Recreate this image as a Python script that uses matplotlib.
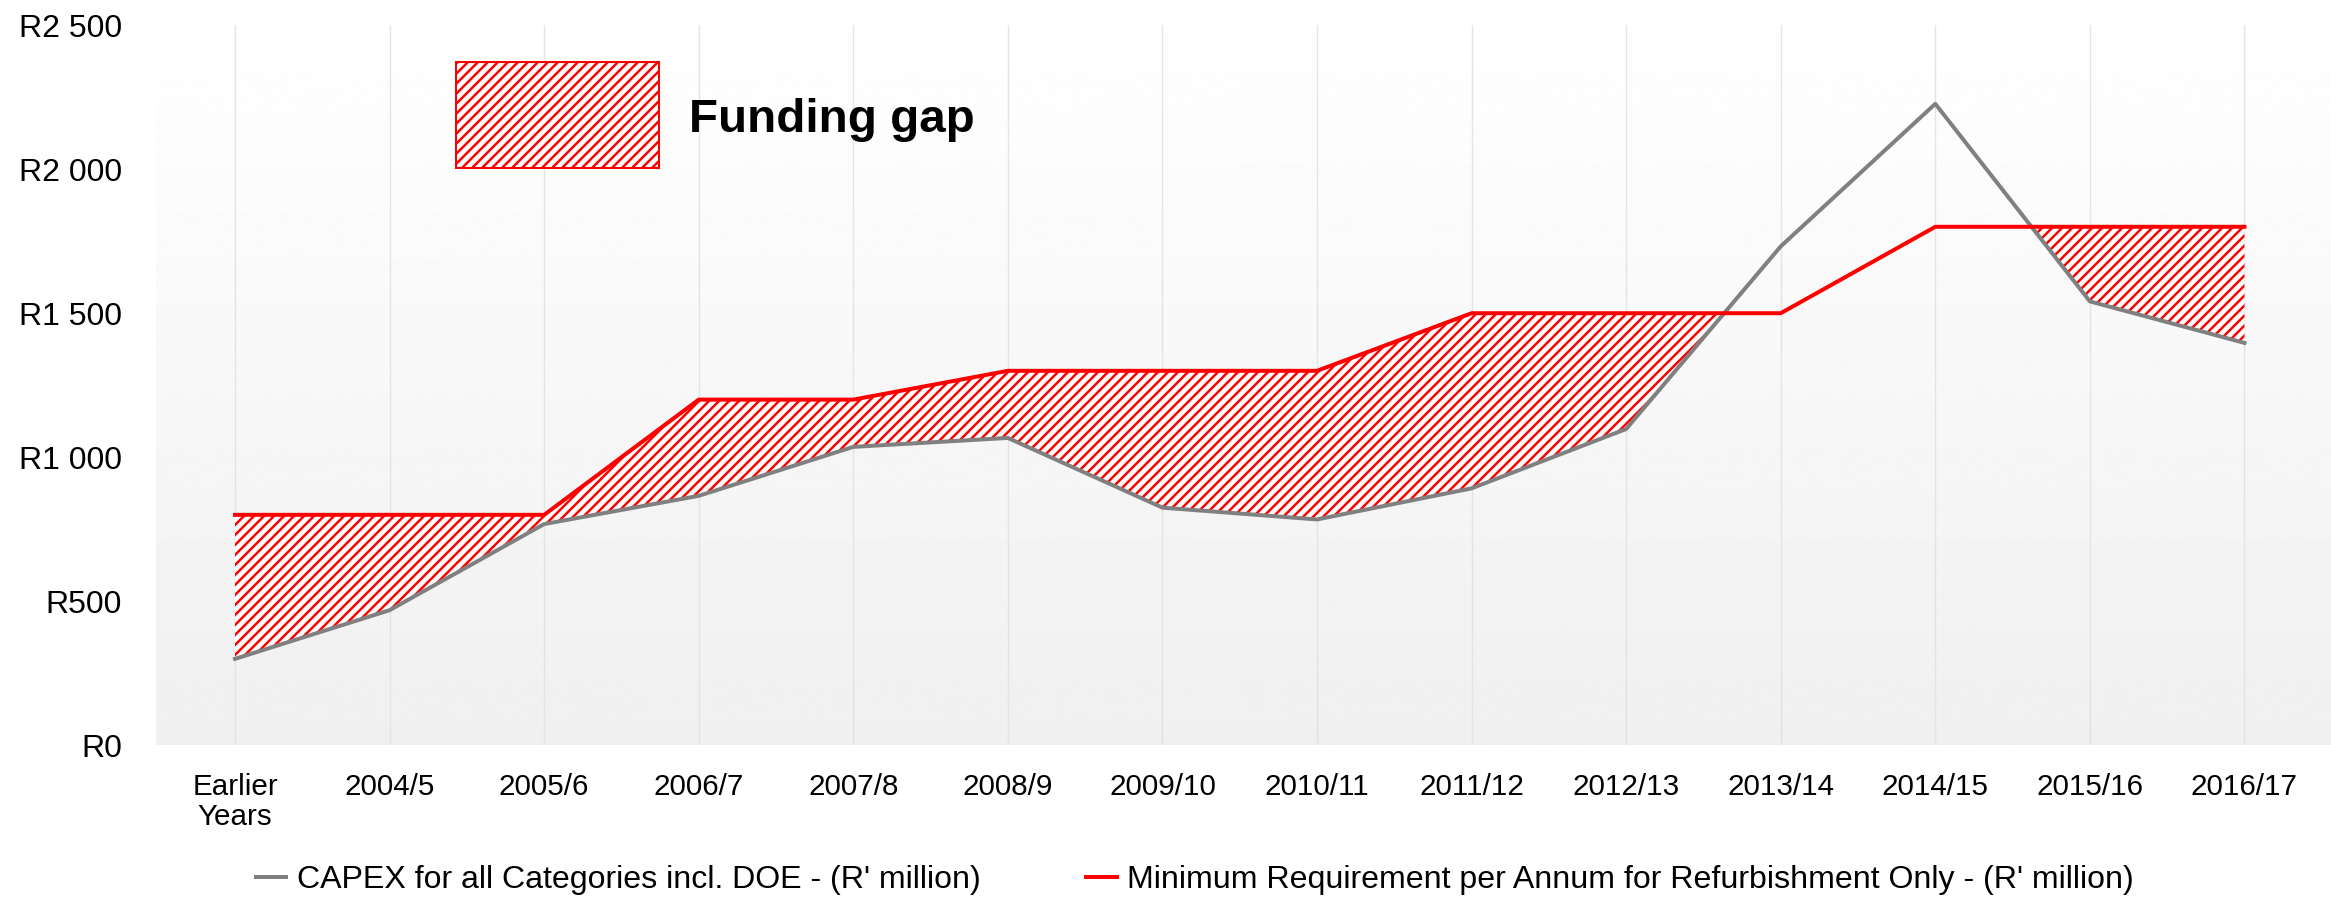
import numpy as np
import pandas as pd
import matplotlib
matplotlib.use("Agg")
import matplotlib.pyplot as plt
from matplotlib.patches import Rectangle
from matplotlib.collections import LineCollection
from matplotlib.path import Path
from matplotlib.transforms import IdentityTransform

DPI = 100
W, H = 2331, 899


def px(v):
    # pixel size -> points
    return v * 72.0 / DPI


plt.rcParams['font.family'] = ['Liberation Sans', 'DejaVu Sans']

#%% data
years = ["Earlier\nYears", "2004/5", "2005/6", "2006/7", "2007/8", "2008/9", "2009/10",
         "2010/11", "2011/12", "2012/13", "2013/14", "2014/15", "2015/16", "2016/17"]
capex = [300, 469, 768, 866, 1036, 1067, 825, 784, 892, 1098, 1732, 2227, 1541, 1397]
min_req = [800, 800, 800, 1200, 1200, 1300, 1300, 1300, 1500, 1500, 1500, 1800, 1800, 1800]
yticks = [0, 500, 1000, 1500, 2000, 2500]
ytick_labels = ["R0", "R500", "R1 000", "R1 500", "R2 000", "R2 500"]

df = pd.DataFrame({"year": years, "capex": capex, "min_req": min_req})
x = np.arange(len(df))


def stripes(ax, clip_path, clip_transform, step=10, zorder=2.5):
    # 45 degree red stripes in pixel space, clipped to a shape
    segs = [[(c, 0), (c + H, H)] for c in np.arange(-H, W, step)]
    lc = LineCollection(segs, colors="red", linewidths=px(2.5),
                        transform=IdentityTransform(), zorder=zorder)
    ax.add_collection(lc, autolim=False)
    # clip has to be set after add_collection, otherwise the axes patch replaces it
    lc.set_clip_path(clip_path, clip_transform)
    return lc


#%% plot
fig = plt.figure(figsize=(W / DPI, H / DPI), dpi=DPI)
ax = fig.add_axes([0.067, 0.171, 0.933, 0.801])

# background gradient (white top -> light grey bottom)
grad = np.linspace(0.94, 1.0, 256)[:, None]
ax.imshow(grad, extent=[0, 1, 0, 1], transform=ax.transAxes, cmap="gray",
          vmin=0, vmax=1, aspect="auto", origin="lower", zorder=0)

for xi in x:
    ax.axvline(xi, color="#e4e4e4", linewidth=px(1.4), zorder=1)

ax.set_xlim(-0.51, 13.56)
ax.set_ylim(0, 2500)

gap = ax.fill_between(x, df.capex, df.min_req, where=df.min_req >= df.capex, interpolate=True,
                      facecolor="white", linewidth=0, zorder=2)
stripes(ax, Path.make_compound_path(*gap.get_paths()), ax.transData)

ax.plot(x, df.capex, color="#808080", linewidth=px(4), zorder=3,
        label="CAPEX for all Categories incl. DOE - (R' million)")
ax.plot(x, df.min_req, color="red", linewidth=px(4), zorder=4,
        label="Minimum Requirement per Annum for Refurbishment Only - (R' million)")

ax.set_xticks(x)
ax.set_xticklabels(df.year, fontsize=px(29.6), linespacing=1.1)
ax.set_yticks(yticks)
ax.set_yticklabels(ytick_labels, fontsize=px(32))
ax.tick_params(axis="both", length=0)
ax.tick_params(axis="x", pad=px(27.8))
ax.tick_params(axis="y", pad=px(34))
for s in ax.spines.values():
    s.set_visible(False)

# "Funding gap" key box
key_path = Path([(0.138, 0.801), (0.231, 0.801), (0.231, 0.949), (0.138, 0.949), (0.138, 0.801)])
ax.add_patch(Rectangle((0.138, 0.801), 0.093, 0.148, transform=ax.transAxes,
                       facecolor="white", edgecolor="none", zorder=5))
stripes(ax, key_path, ax.transAxes, zorder=5.5)
ax.add_patch(Rectangle((0.138, 0.801), 0.093, 0.148, transform=ax.transAxes,
                       facecolor="none", edgecolor="red", linewidth=px(2), zorder=6))
ax.text(0.245, 0.869, "Funding gap", transform=ax.transAxes, fontsize=px(47.5),
        fontweight="bold", va="center", ha="left", zorder=5)

fig.legend(loc="center", bbox_to_anchor=(0.5126, 0.021), ncol=2, frameon=False,
           fontsize=px(32.1), handlelength=0.95, columnspacing=3.3, handletextpad=0.33)

fig.savefig("out.png", dpi=DPI)
